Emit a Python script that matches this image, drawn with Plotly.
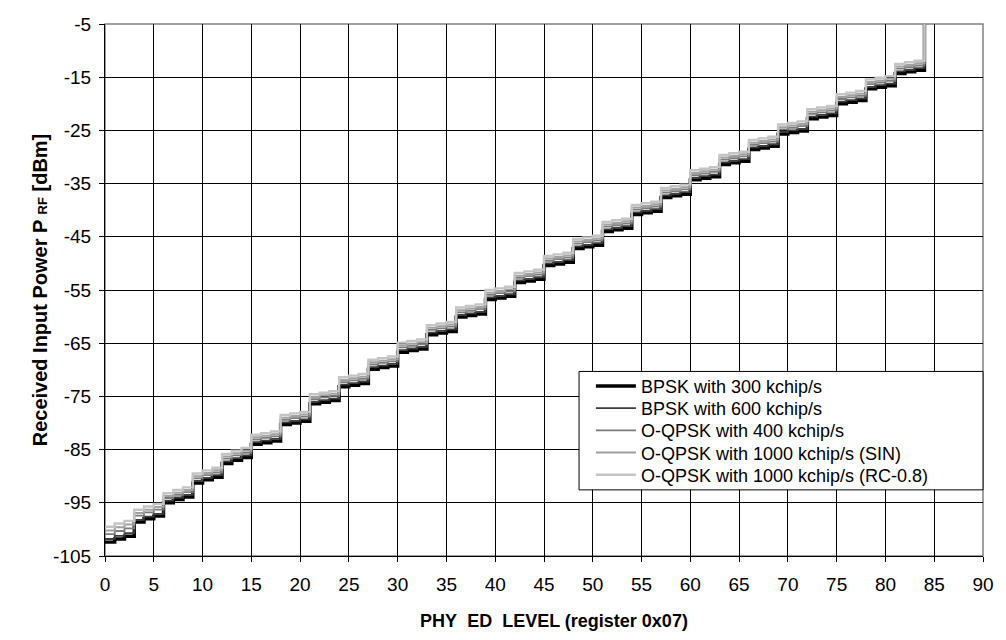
import plotly.graph_objects as go

# PHY_ED_LEVEL register values (0..84); at 84 the curves leave the chart (top)
ed_level = list(range(0, 85))

bpsk_300 = [
    -102.4, -101.8, -101.3, -98.6, -98.0, -97.5, -95.0, -94.4, -93.9,
    -91.3, -90.7, -90.2, -87.6, -87.0, -86.5, -84.0, -83.7, -83.4,
    -80.3, -80.0, -79.7, -76.4, -76.1, -75.8, -73.2, -72.9, -72.6,
    -69.9, -69.6, -69.3, -66.7, -66.4, -66.1, -63.4, -63.1, -62.8,
    -60.1, -59.8, -59.5, -56.8, -56.5, -56.2, -53.6, -53.3, -53.0,
    -50.4, -50.1, -49.8, -47.2, -46.9, -46.6, -44.0, -43.7, -43.4,
    -40.8, -40.5, -40.2, -37.6, -37.3, -37.0, -34.3, -34.0, -33.7,
    -31.4, -31.1, -30.8, -28.6, -28.3, -28.0, -25.7, -25.4, -25.1,
    -22.8, -22.5, -22.2, -20.0, -19.7, -19.4, -17.2, -16.9, -16.6,
    -14.3, -14.0, -13.7, -5.0,
]
bpsk_600 = [
    -101.8, -101.2, -100.7, -98.2, -97.6, -97.1, -94.6, -94.0, -93.5,
    -90.9, -90.3, -89.8, -87.2, -86.6, -86.1, -83.6, -83.3, -83.0,
    -79.9, -79.6, -79.3, -76.0, -75.7, -75.4, -72.8, -72.5, -72.2,
    -69.5, -69.2, -68.9, -66.3, -66.0, -65.7, -63.0, -62.7, -62.4,
    -59.7, -59.4, -59.1, -56.4, -56.1, -55.8, -53.2, -52.9, -52.6,
    -50.0, -49.7, -49.4, -46.8, -46.5, -46.2, -43.6, -43.3, -43.0,
    -40.4, -40.1, -39.8, -37.2, -36.9, -36.6, -33.9, -33.6, -33.3,
    -31.0, -30.7, -30.4, -28.2, -27.9, -27.6, -25.3, -25.0, -24.7,
    -22.4, -22.1, -21.8, -19.6, -19.3, -19.0, -16.8, -16.5, -16.2,
    -13.9, -13.6, -13.3, -5.0,
]
oqpsk_400 = [
    -100.9, -100.3, -99.8, -97.4, -96.8, -96.3, -94.1, -93.5, -93.0,
    -90.4, -89.8, -89.3, -86.7, -86.1, -85.6, -83.1, -82.8, -82.5,
    -79.4, -79.1, -78.8, -75.5, -75.2, -74.9, -72.3, -72.0, -71.7,
    -69.0, -68.7, -68.4, -65.8, -65.5, -65.2, -62.5, -62.2, -61.9,
    -59.2, -58.9, -58.6, -55.9, -55.6, -55.3, -52.7, -52.4, -52.1,
    -49.5, -49.2, -48.9, -46.3, -46.0, -45.7, -43.1, -42.8, -42.5,
    -39.9, -39.6, -39.3, -36.7, -36.4, -36.1, -33.4, -33.1, -32.8,
    -30.5, -30.2, -29.9, -27.7, -27.4, -27.1, -24.8, -24.5, -24.2,
    -21.9, -21.6, -21.3, -19.1, -18.8, -18.5, -16.3, -16.0, -15.7,
    -13.4, -13.1, -12.8, -5.0,
]
oqpsk_1000_sin = [
    -100.2, -99.6, -99.1, -96.9, -96.3, -95.8, -93.7, -93.1, -92.6,
    -90.0, -89.4, -88.9, -86.3, -85.7, -85.2, -82.7, -82.4, -82.1,
    -79.0, -78.7, -78.4, -75.1, -74.8, -74.5, -71.9, -71.6, -71.3,
    -68.6, -68.3, -68.0, -65.4, -65.1, -64.8, -62.1, -61.8, -61.5,
    -58.8, -58.5, -58.2, -55.5, -55.2, -54.9, -52.3, -52.0, -51.7,
    -49.1, -48.8, -48.5, -45.9, -45.6, -45.3, -42.7, -42.4, -42.1,
    -39.5, -39.2, -38.9, -36.3, -36.0, -35.7, -33.0, -32.7, -32.4,
    -30.1, -29.8, -29.5, -27.3, -27.0, -26.7, -24.4, -24.1, -23.8,
    -21.5, -21.2, -20.9, -18.7, -18.4, -18.1, -15.9, -15.6, -15.3,
    -13.0, -12.7, -12.4, -5.0,
]
oqpsk_1000_rc = [
    -99.5, -98.9, -98.4, -96.3, -95.7, -95.2, -93.2, -92.6, -92.1,
    -89.5, -88.9, -88.4, -85.8, -85.2, -84.7, -82.2, -81.9, -81.6,
    -78.5, -78.2, -77.9, -74.6, -74.3, -74.0, -71.4, -71.1, -70.8,
    -68.1, -67.8, -67.5, -64.9, -64.6, -64.3, -61.6, -61.3, -61.0,
    -58.3, -58.0, -57.7, -55.0, -54.7, -54.4, -51.8, -51.5, -51.2,
    -48.6, -48.3, -48.0, -45.4, -45.1, -44.8, -42.2, -41.9, -41.6,
    -39.0, -38.7, -38.4, -35.8, -35.5, -35.2, -32.5, -32.2, -31.9,
    -29.6, -29.3, -29.0, -26.8, -26.5, -26.2, -23.9, -23.6, -23.3,
    -21.0, -20.7, -20.4, -18.2, -17.9, -17.6, -15.4, -15.1, -14.8,
    -12.5, -12.2, -11.9, -5.0,
]

series_names = [
    "BPSK with 300 kchip/s",
    "BPSK with 600 kchip/s",
    "O-QPSK with 400 kchip/s",
    "O-QPSK with 1000 kchip/s (SIN)",
    "O-QPSK with 1000 kchip/s (RC-0.8)",
]
series_values = [bpsk_300, bpsk_600, oqpsk_400, oqpsk_1000_sin, oqpsk_1000_rc]
series_colors = ["#000000", "#3c3c3c", "#7a7a7a", "#a0a0a0", "#c4c4c4"]
series_widths = [3.4, 1.8, 1.8, 2.0, 2.4]

x_ticks = list(range(0, 91, 5))
y_ticks = list(range(-105, -4, 10))

FONT = "Liberation Sans, Arial, sans-serif"

# Legend placement (paper coordinates) - one legend row per series
legend_ids = ["legend", "legend2", "legend3", "legend4", "legend5"]
legend_rows_y = [0.3191, 0.2774, 0.2356, 0.1939, 0.1521]
legend_box = dict(x0=0.5399, x1=1.0, y0=0.1243, y1=0.3469)

fig = go.Figure()
for name, vals, col, w, lg in zip(series_names, series_values, series_colors,
                                  series_widths, legend_ids):
    fig.add_trace(go.Scatter(
        x=ed_level, y=vals, name=name, mode="lines", legend=lg,
        line=dict(color=col, width=w, shape="hv"),
    ))

legend_layout = {}
for lg, ly in zip(legend_ids, legend_rows_y):
    legend_layout[lg] = dict(
        x=0.5534, y=ly, xanchor="left", yanchor="middle",
        bgcolor="rgba(0,0,0,0)", borderwidth=0,
        font=dict(family=FONT, size=18, color="black"),
        itemwidth=40, tracegroupgap=0,
    )

fig.update_layout(
    width=1006, height=640,
    margin=dict(l=105, r=12, t=24, b=77),
    paper_bgcolor="white", plot_bgcolor="white",
    font=dict(family=FONT, size=19, color="black"),
    showlegend=True,
    shapes=[
        dict(type="rect", xref="paper", yref="paper", x0=0, y0=0, x1=1, y1=1,
             line=dict(color="#808080", width=1.5), layer="below"),
        dict(type="rect", xref="paper", yref="paper", layer="above",
             fillcolor="white", line=dict(color="black", width=1), **legend_box),
    ],
    **legend_layout,
)
fig.update_xaxes(
    range=[0, 90], tickvals=x_ticks, ticktext=[str(v) for v in x_ticks],
    showgrid=True, gridcolor="#000000", gridwidth=1,
    showline=True, linecolor="black", linewidth=1.2,
    ticks="outside", ticklen=5, tickcolor="black",
    tickfont=dict(family=FONT, size=19), ticklabelstandoff=6,
    zeroline=False,
    title=dict(text="<b>\u00a0\u00a0\u00a0\u00a0PHY\u00a0\u00a0ED\u00a0\u00a0LEVEL (register 0x07)</b>",
               font=dict(family=FONT, size=18), standoff=20),
)
fig.update_yaxes(
    range=[-105, -5], tickvals=y_ticks, ticktext=[str(v) for v in y_ticks],
    showgrid=True, gridcolor="#000000", gridwidth=1,
    showline=True, linecolor="black", linewidth=1.2,
    ticks="outside", ticklen=5, tickcolor="black",
    tickfont=dict(family=FONT, size=19), ticklabelstandoff=4,
    zeroline=False,
    title=dict(text="<b>Received Input Power P <span style='font-size:13px'>RF</span> [dBm]</b>",
               font=dict(family=FONT, size=20), standoff=0),
)

# remove the default page margin so the 1006x640 figure fills the window exactly
fig.write_html("out.html", config={"displayModeBar": False},
               post_script="document.body.style.margin='0';")
